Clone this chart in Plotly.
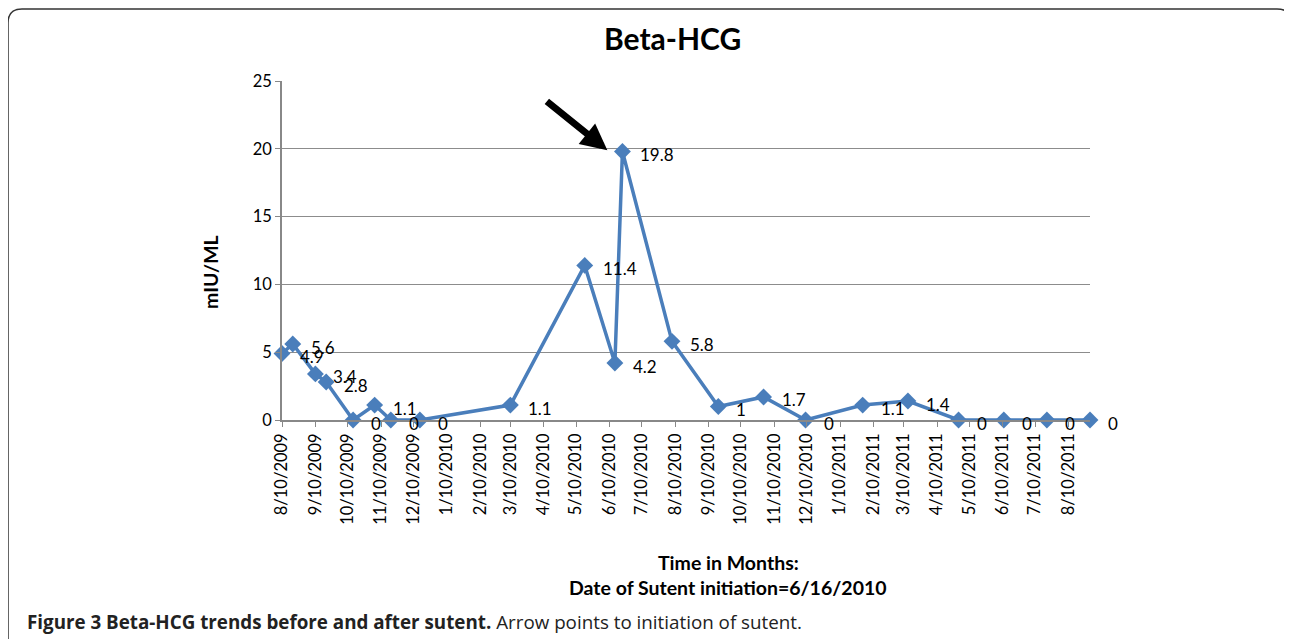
import plotly.graph_objects as go

# ---- data ----
dates = ["2009-08-10", "2009-08-20", "2009-09-10", "2009-09-20", "2009-10-15",
         "2009-11-04", "2009-11-19", "2009-12-16", "2010-03-10", "2010-05-18",
         "2010-06-15", "2010-06-22", "2010-08-07", "2010-09-19", "2010-10-31",
         "2010-12-09", "2011-01-31", "2011-03-14", "2011-04-30", "2011-06-11",
         "2011-07-21", "2011-08-30"]
values = [4.9, 5.6, 3.4, 2.8, 0, 1.1, 0, 0, 1.1, 11.4, 4.2, 19.8, 5.8, 1, 1.7,
          0, 1.1, 1.4, 0, 0, 0, 0]
labels = ["4.9", "5.6", "3.4", "2.8", "0", "1.1", "0", "0", "1.1", "11.4", "4.2",
          "19.8", "5.8", "1", "1.7", "0", "1.1", "1.4", "0", "0", "0", "0"]
tick_dates = ["2009-08-10", "2009-09-10", "2009-10-10", "2009-11-10", "2009-12-10",
              "2010-01-10", "2010-02-10", "2010-03-10", "2010-04-10", "2010-05-10",
              "2010-06-10", "2010-07-10", "2010-08-10", "2010-09-10", "2010-10-10",
              "2010-11-10", "2010-12-10", "2011-01-10", "2011-02-10", "2011-03-10",
              "2011-04-10", "2011-05-10", "2011-06-10", "2011-07-10", "2011-08-10"]
tick_text = ["8/10/2009", "9/10/2009", "10/10/2009", "11/10/2009", "12/10/2009",
             "1/10/2010", "2/10/2010", "3/10/2010", "4/10/2010", "5/10/2010",
             "6/10/2010", "7/10/2010", "8/10/2010", "9/10/2010", "10/10/2010",
             "11/10/2010", "12/10/2010", "1/10/2011", "2/10/2011", "3/10/2011",
             "4/10/2011", "5/10/2011", "6/10/2011", "7/10/2011", "8/10/2011"]
arrow_tip_date = "2010-06-08"
arrow_tip_value = 19.9

BLUE = "#4A7EBB"
FONT = "Lato"

fig = go.Figure()
fig.add_trace(go.Scatter(
    x=dates, y=values, mode="lines+markers",
    line=dict(color=BLUE, width=3.5),
    marker=dict(symbol="diamond", size=13, color=BLUE),
    showlegend=False, cliponaxis=False,
))

for d, v, t in zip(dates, values, labels):
    fig.add_annotation(x=d, y=v, text=t, showarrow=False, xanchor="left",
                       yanchor="middle", xshift=16, yshift=-3,
                       font=dict(family=FONT, size=17, color="#000"))

fig.add_annotation(x=arrow_tip_date, y=arrow_tip_value, ax=-62, ay=-50,
                   axref="pixel", ayref="pixel", showarrow=True,
                   arrowhead=2, arrowsize=0.75, arrowwidth=7, arrowcolor="#000",
                   text="")

# page is drawn with an 8px body offset
OFF = 8
W, H = 1292 - OFF, 639 - OFF
L, R, T, B = 282, 1090, 81, 420  # screen pixels
pw, ph = R - L, B - T
def px(x):
    return (x - L) / pw
def py(y):
    return (B - y) / ph

def text_at(x, y, text, size, family=FONT, xanchor="center", angle=0, color="#000"):
    fig.add_annotation(x=px(x), y=py(y), xref="paper", yref="paper",
                       xanchor=xanchor, yanchor="middle", text=text,
                       showarrow=False, textangle=angle,
                       font=dict(family=family, size=size, color=color))

text_at(672, 38, "<b>Beta-HCG</b>", 30)
text_at(210, 272, "<b>mIU/ML</b>", 19.5, angle=-90)
text_at(728, 562, "<b>Time in Months:</b>", 19.5)
text_at(728, 587, "<b>Date of Sutent initiation=6/16/2010</b>", 19.5)
text_at(25, 622, "<b>Figure 3 Beta-HCG trends before and after sutent.</b> Arrow points to initiation of sutent.",
        18.8, family="Open Sans", xanchor="left", color="#222")

# rounded frame
x0, x1, y0, y1 = px(8), px(1291), py(680), py(9)
rx, ry = 14 / pw, 14 / ph
path = (f"M {x0} {y0} L {x0} {y1-ry} Q {x0} {y1} {x0+rx} {y1} "
        f"L {x1-rx} {y1} Q {x1} {y1} {x1} {y1-ry} L {x1} {y0}")
fig.add_shape(type="path", path=path, xref="paper", yref="paper",
              line=dict(color="#333", width=1.5))

fig.update_xaxes(type="date", range=["2009-08-10", "2011-08-30"],
                 tickvals=tick_dates, ticktext=tick_text, tickangle=-90,
                 showgrid=False, showline=True, linecolor="#888", linewidth=1.5,
                 ticks="outside", ticklen=5, tickcolor="#888",
                 tickfont=dict(family=FONT, size=16.5, color="#000"), zeroline=False)
fig.update_yaxes(range=[0, 25], dtick=5, showgrid=True, gridcolor="#8c8c8c",
                 gridwidth=1, showline=True, linecolor="#888", linewidth=1.5,
                 ticks="outside", ticklen=5, tickcolor="#888",
                 tickfont=dict(family=FONT, size=16.5, color="#000"), zeroline=False)

fig.update_layout(width=W, height=H, autosize=False,
                  margin=dict(l=L - OFF, r=(1292 - R), t=T - OFF, b=(639 - B)),
                  plot_bgcolor="white", paper_bgcolor="white",
                  font=dict(family=FONT))

fig.write_html("out.html")
